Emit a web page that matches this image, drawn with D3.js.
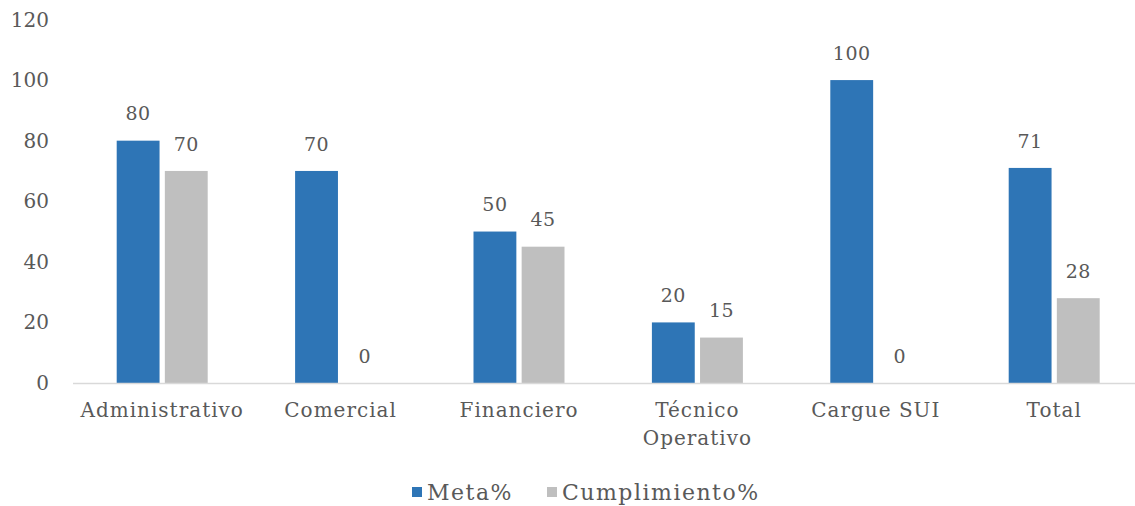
<!DOCTYPE html>
<html>
<head>
<meta charset="utf-8">
<script src="https://cdn.jsdelivr.net/npm/d3@7"></script>
<style>
  body { margin: 0; background: #fff; }
  svg text { font-family: "DejaVu Serif", serif; fill: #595959; }
</style>
</head>
<body>
<svg id="chart" width="1135" height="506"></svg>
<script>
const categories = [['Administrativo'], ['Comercial'], ['Financiero'], ['Técnico', 'Operativo'], ['Cargue SUI'], ['Total']];
const meta = [80, 70, 50, 20, 100, 71];
const cumplimiento = [70, 0, 45, 15, 0, 28];
const yTicks = [0, 20, 40, 60, 80, 100, 120];
const seriesNames = ['Meta%', 'Cumplimiento%'];
const colors = ['#2E75B6', '#BFBFBF'];

const svg = d3.select('#chart');
const plotLeft = 73, plotRight = 1135, plotTop = 19.5, plotBottom = 383;

const x = d3.scaleBand().domain(d3.range(categories.length)).range([73, 1143.4]);
const inner = d3.scaleBand().domain([0, 1]).range([0, 91]).paddingInner(0.11);
const y = d3.scaleLinear().domain([0, 120]).range([plotBottom, plotTop]);
const barX = (i, s) => x(i) + x.bandwidth() / 2 - 45.5 + inner(s);

// y tick labels
svg.append('g').selectAll('text')
  .data(yTicks)
  .join('text')
  .attr('x', 49)
  .attr('y', d => y(d))
  .attr('dy', '0.35em')
  .attr('text-anchor', 'end')
  .attr('font-size', 20)
  .text(d => d);

const series = [meta, cumplimiento];
series.forEach((vals, s) => {
  const g = svg.append('g');
  g.selectAll('rect')
    .data(vals)
    .join('rect')
    .attr('x', (d, i) => barX(i, s))
    .attr('y', d => y(d))
    .attr('width', inner.bandwidth())
    .attr('height', d => plotBottom - y(d))
    .attr('fill', colors[s]);
  g.selectAll('text')
    .data(vals)
    .join('text')
    .attr('x', (d, i) => barX(i, s) + inner.bandwidth() / 2)
    .attr('y', d => y(d) - 27)
    .attr('dy', '0.35em')
    .attr('text-anchor', 'middle')
    .attr('font-size', 19)
    .attr('letter-spacing', 0.5)
    .text(d => d);
});

// baseline
svg.append('line')
  .attr('x1', plotLeft).attr('x2', plotRight)
  .attr('y1', plotBottom + 0.5).attr('y2', plotBottom + 0.5)
  .attr('stroke', '#D9D9D9').attr('stroke-width', 1.5);

// category labels
svg.append('g').selectAll('text')
  .data(categories)
  .join('text')
  .attr('x', (d, i) => x(i) + x.bandwidth() / 2)
  .attr('y', 410)
  .attr('text-anchor', 'middle')
  .attr('font-size', 20)
  .attr('letter-spacing', 1)
  .each(function (lines) {
    const cx = d3.select(this).attr('x');
    d3.select(this).selectAll('tspan')
      .data(lines)
      .join('tspan')
      .attr('x', cx)
      .attr('dy', (d, j) => j === 0 ? '0.35em' : '1.4em')
      .text(d => d);
  });

// legend
const legend = svg.append('g');
const legendX = [412, 547];
seriesNames.forEach((name, s) => {
  legend.append('rect')
    .attr('x', legendX[s]).attr('y', 487)
    .attr('width', 10).attr('height', 10)
    .attr('fill', colors[s]);
  legend.append('text')
    .attr('x', legendX[s] + 15).attr('y', 492)
    .attr('dy', '0.35em')
    .attr('font-size', 22)
    .attr('letter-spacing', 1.5)
    .text(name);
});
</script>
</body>
</html>
